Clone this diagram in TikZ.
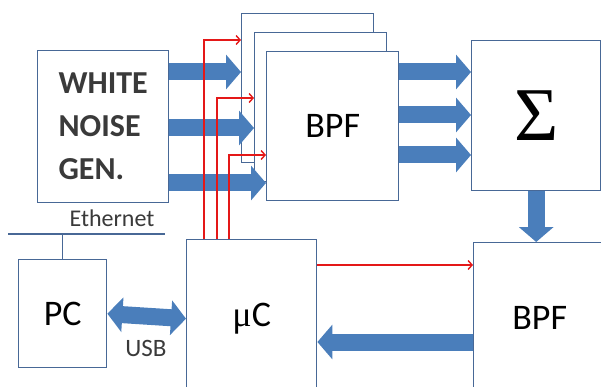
\documentclass[tikz,border=0pt]{standalone}
\usepackage{fontspec}
\setmainfont{Carlito}
\newfontfamily\symfont{Liberation Serif}
\usetikzlibrary{arrows.meta, positioning, calc}
\definecolor{boxline}{RGB}{72,104,150}
\definecolor{fatblue}{RGB}{74,126,187}
\definecolor{sigred}{RGB}{228,24,24}
\definecolor{textgray}{RGB}{58,58,58}

\begin{document}
\begin{tikzpicture}[
    x=1pt, y=1pt,
    box/.style={rectangle, draw=boxline, line width=1.4pt, fill=white, inner sep=0pt, anchor=north west, font=\fontsize{36}{40}\selectfont},
    bpfbox/.style={box, minimum width=132pt, minimum height=149pt},
    fat/.style={draw=fatblue, line width=17pt, -{Triangle[width=34pt, length=15pt]}},
    fatboth/.style={draw=fatblue, line width=17pt, {Triangle[width=34pt, length=15pt]}-{Triangle[width=34pt, length=15pt]}},
    sig/.style={draw=sigred, line width=1.4pt, -{Straight Barb[length=4pt, width=9pt]}},
    wire/.style={draw=boxline, line width=1.4pt}
]
    \useasboundingbox (0,0) rectangle (601,-387);

    % blocks
    \node[box, minimum width=131pt, minimum height=152pt, align=left, text=textgray,
          font=\fontsize{32}{43}\selectfont\bfseries] (wng) at (37,-50) {WHITE\\NOISE\\GEN.};
    \node[bpfbox] (bpfc) at (241,-13) {};
    \node[bpfbox] (bpfb) at ([shift={(13,-19)}]bpfc.north west) {};
    \node[bpfbox] (bpfa) at ([shift={(12,-19)}]bpfb.north west) {BPF};
    \node[box, minimum width=129pt, minimum height=150pt, font=\symfont\fontsize{76}{76}\selectfont] (sum) at (471,-40) {Σ};
    \node[box, minimum width=132pt, minimum height=150pt] (bpf2) at (473,-242) {BPF};
    \node[box, minimum width=130pt, minimum height=158pt] (muc) at (186,-239) {{\symfont μ}C};
    \node[box, minimum width=88pt, minimum height=108pt] (pc) at (18,-259) {PC};

    % ethernet bus
    \coordinate (ethL) at (8,-234);
    \coordinate (ethR) at (165,-234);
    \draw[wire] (ethL) -- (ethR);
    \draw[wire] (pc.north) -- (pc.north |- ethL);
    \node[font=\fontsize{24}{26}\selectfont, text=textgray] (eth) at (112,-218) {Ethernet};

    % wide arrows
    \foreach \dy/\tgt in {22pt/bpfc, 78pt/bpfb, 133pt/bpfa}
        \draw[fat] ([yshift=-\dy]wng.north east) coordinate (s) -- (\tgt.west |- s);
    \foreach \dy in {21pt, 64pt, 104pt}
        \draw[fat] ([yshift=-\dy]bpfa.north east) coordinate (s) -- (sum.west |- s);
    \draw[fat] (sum.south) -- (sum.south |- bpf2.north);
    \draw[fat] ([yshift=-100pt]bpf2.north west) coordinate (s) -- (muc.east |- s);
    \draw[fatboth] (pc.east) -- (muc.west);
    \node[font=\fontsize{25}{27}\selectfont, text=textgray] (usb) at (146,-348) {USB};

    % control lines
    \foreach \dx/\dy/\tgt in {18pt/27pt/bpfc, 31pt/66pt/bpfb, 43pt/104pt/bpfa}
        \draw[sig] ([xshift=\dx]muc.north west) |- ([yshift=-\dy]\tgt.north west);
    \draw[sig] ([yshift=-26pt]muc.north east) coordinate (s) -- (bpf2.west |- s);
\end{tikzpicture}
\end{document}
